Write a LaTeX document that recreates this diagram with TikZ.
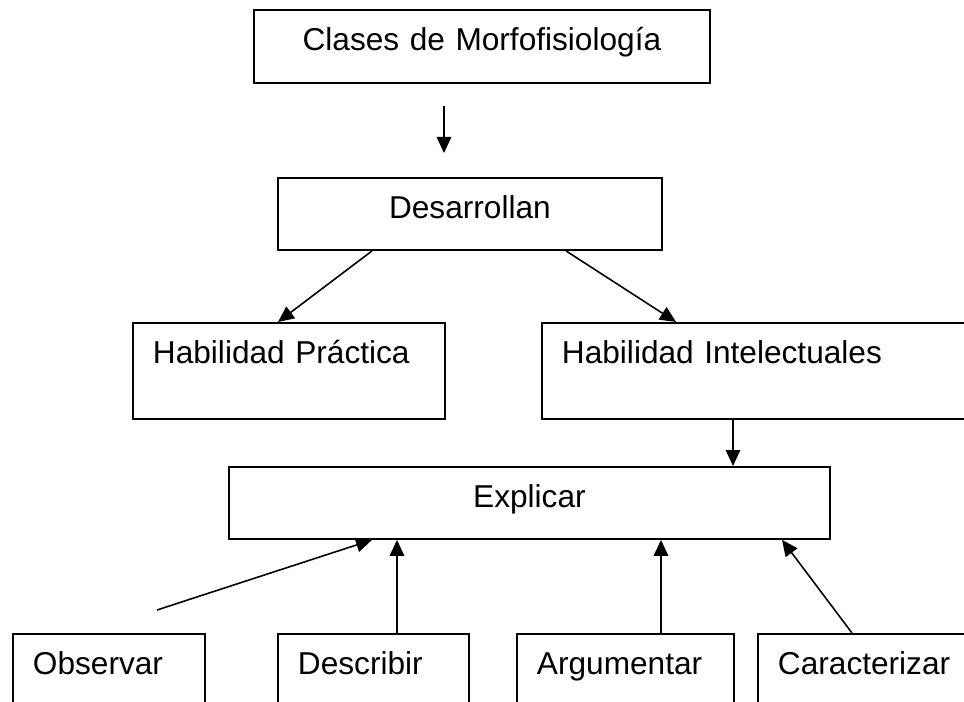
\documentclass[tikz,border=0pt]{standalone}
\usepackage{fontspec}
\setmainfont{Liberation Sans}
\usetikzlibrary{arrows.meta,calc}
\tikzset{
  box/.style={draw, line width=1.1pt, anchor=north west, inner xsep=0.4cm, inner ysep=0pt,
    text height=0.82cm, font=\fontsize{18pt}{22pt}\selectfont},
  flecha/.style={-{Triangle[length=0.32cm,width=0.29cm]}, line width=0.9pt}
}
\begin{document}
\begin{tikzpicture}[x=0.02cm, y=-0.02cm]
\useasboundingbox (0,0) rectangle (964,702);
\clip (0,0) rectangle (964,702);

\node [box, text width=8.32cm, align=center, text depth=0.64cm] (clases) at (253,9) {Clases de Morfofisiología};
\node [box, text width=6.88cm, align=center, text depth=0.62cm] (desarrollan) at (277,177) {Desarrollan};
\node [box, text width=5.44cm, align=left, text depth=1.1cm] (hpract) at (132,322) {Habilidad Práctica};
\node [box, text width=8.38cm, align=left, text depth=1.1cm] (hintel) at (541,322) {Habilidad Intelectuales};
\node [box, text width=11.22cm, align=center, text depth=0.62cm] (explicar) at (228,466) {Explicar};
\node [box, text width=3.04cm, align=left, text depth=1.1cm] (observar) at (12,633) {Observar};
\node [box, text width=3.02cm, align=left, text depth=1.1cm] (describir) at (277,633) {Describir};
\node [box, text width=3.54cm, align=left, text depth=1.1cm] (argumentar) at (516,633) {Argumentar};
\node [box, text width=3.8cm, align=left, text depth=1.1cm] (caracterizar) at (757,633) {Caracterizar};

\coordinate (c1) at (444,106);
\coordinate (c2) at (444,153);
\coordinate (c3) at (157,610);

\draw [flecha] (c1) -- (c2);
\draw [flecha] ($(desarrollan.south west)+(95,0)$) -- ($(hpract.north west)+(146,0)$);
\draw [flecha] ($(desarrollan.south west)+(289,0)$) -- ($(hintel.north west)+(135,0)$);
\draw [flecha] ($(hintel.south west)+(192,0)$) -- ($(explicar.north west)+(505,0)$);
\draw [flecha] (c3) -- ($(explicar.south west)+(144,0)$);
\draw [flecha] ($(describir.north west)+(120,0)$) -- ($(explicar.south west)+(169,0)$);
\draw [flecha] ($(argumentar.north west)+(145,0)$) -- ($(explicar.south west)+(433,0)$);
\draw [flecha] ($(caracterizar.north west)+(95,0)$) -- ($(explicar.south west)+(554,0)$);
\end{tikzpicture}
\end{document}
